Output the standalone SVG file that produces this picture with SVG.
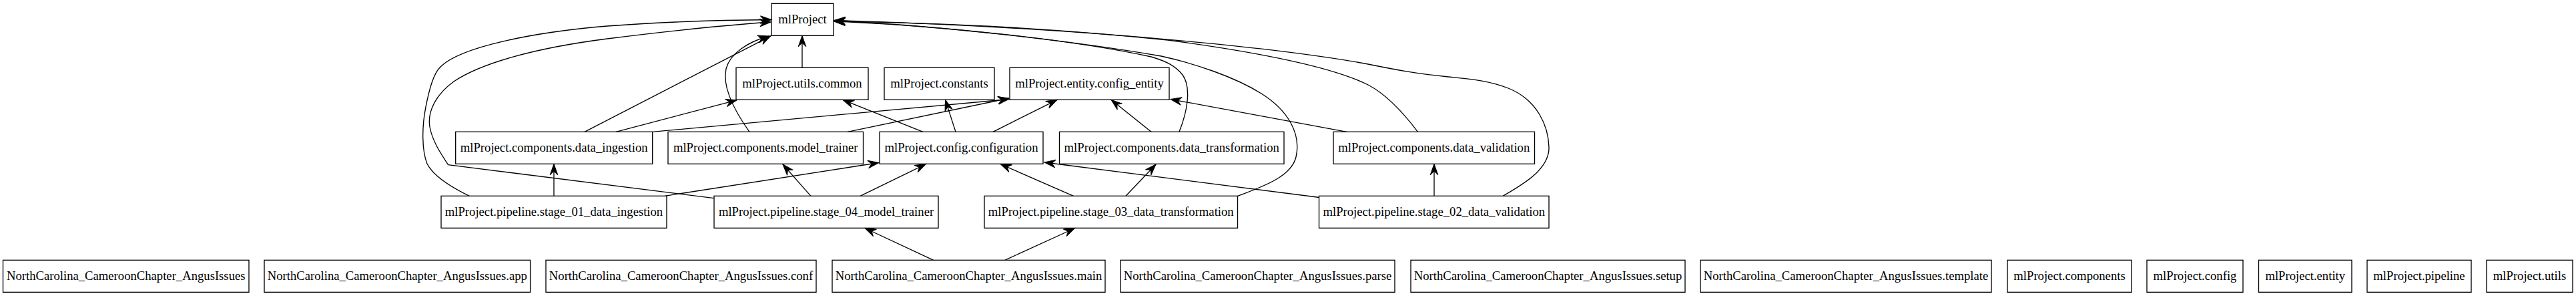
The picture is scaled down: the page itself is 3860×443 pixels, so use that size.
<svg xmlns="http://www.w3.org/2000/svg" width="3860" height="443" viewBox="0 0 3860 443">
<style>
.n rect{fill:#fff;stroke:#000;stroke-width:1.33}
.n text{font-family:"Liberation Serif","Times New Roman",serif;font-size:18.67px;text-anchor:middle;fill:#000}
.e path{fill:none;stroke:#000;stroke-width:1.33;marker-end:url(#vee)}
</style>
<defs>
<marker id="vee" markerUnits="userSpaceOnUse" viewBox="-21 -10 24 20" markerWidth="24" markerHeight="20" refX="0" refY="0" orient="auto">
<polygon points="0,0 -16.5,-5.8 -11,0 -16.5,5.8" fill="#000" stroke="#000" stroke-width="1"/>
</marker>
</defs>
<rect width="3860" height="443" fill="#fff"/>
<g id="nodes">
<g id="mlProject" class="n"><rect x="1156" y="5.33" width="93" height="48"/><text x="1202.5" y="35.33">mlProject</text></g>
<g id="mlProject.utils.common" class="n"><rect x="1103" y="101.33" width="198" height="48"/><text x="1202" y="131.33">mlProject.utils.common</text></g>
<g id="mlProject.constants" class="n"><rect x="1325" y="101.33" width="165" height="48"/><text x="1407.5" y="131.33">mlProject.constants</text></g>
<g id="mlProject.entity.config_entity" class="n"><rect x="1513" y="101.33" width="239" height="48"/><text x="1632.5" y="131.33">mlProject.entity.config_entity</text></g>
<g id="mlProject.components.data_ingestion" class="n"><rect x="682.7" y="197.33" width="295" height="48"/><text x="830.2" y="227.33">mlProject.components.data_ingestion</text></g>
<g id="mlProject.components.model_trainer" class="n"><rect x="1001" y="197.33" width="292.5" height="48"/><text x="1147.25" y="227.33">mlProject.components.model_trainer</text></g>
<g id="mlProject.config.configuration" class="n"><rect x="1318" y="197.33" width="245" height="48"/><text x="1440.5" y="227.33">mlProject.config.configuration</text></g>
<g id="mlProject.components.data_transformation" class="n"><rect x="1587.5" y="197.33" width="336.5" height="48"/><text x="1755.75" y="227.33">mlProject.components.data_transformation</text></g>
<g id="mlProject.components.data_validation" class="n"><rect x="1998" y="197.33" width="301.5" height="48"/><text x="2148.75" y="227.33">mlProject.components.data_validation</text></g>
<g id="mlProject.pipeline.stage_01_data_ingestion" class="n"><rect x="661" y="293.33" width="338" height="48"/><text x="830" y="323.33">mlProject.pipeline.stage_01_data_ingestion</text></g>
<g id="mlProject.pipeline.stage_04_model_trainer" class="n"><rect x="1070" y="293.33" width="336" height="48"/><text x="1238" y="323.33">mlProject.pipeline.stage_04_model_trainer</text></g>
<g id="mlProject.pipeline.stage_03_data_transformation" class="n"><rect x="1475" y="293.33" width="379.5" height="48"/><text x="1664.75" y="323.33">mlProject.pipeline.stage_03_data_transformation</text></g>
<g id="mlProject.pipeline.stage_02_data_validation" class="n"><rect x="1976.5" y="293.33" width="344.5" height="48"/><text x="2148.75" y="323.33">mlProject.pipeline.stage_02_data_validation</text></g>
<g id="NorthCarolina_CameroonChapter_AngusIssues" class="n"><rect x="4.5" y="389.33" width="368.5" height="48"/><text x="188.75" y="419.33">NorthCarolina_CameroonChapter_AngusIssues</text></g>
<g id="NorthCarolina_CameroonChapter_AngusIssues.app" class="n"><rect x="396" y="389.33" width="398.6" height="48"/><text x="595.3" y="419.33">NorthCarolina_CameroonChapter_AngusIssues.app</text></g>
<g id="NorthCarolina_CameroonChapter_AngusIssues.conf" class="n"><rect x="818" y="389.33" width="405" height="48"/><text x="1020.5" y="419.33">NorthCarolina_CameroonChapter_AngusIssues.conf</text></g>
<g id="NorthCarolina_CameroonChapter_AngusIssues.main" class="n"><rect x="1247" y="389.33" width="409" height="48"/><text x="1451.5" y="419.33">NorthCarolina_CameroonChapter_AngusIssues.main</text></g>
<g id="NorthCarolina_CameroonChapter_AngusIssues.parse" class="n"><rect x="1679" y="389.33" width="411" height="48"/><text x="1884.5" y="419.33">NorthCarolina_CameroonChapter_AngusIssues.parse</text></g>
<g id="NorthCarolina_CameroonChapter_AngusIssues.setup" class="n"><rect x="2114" y="389.33" width="411" height="48"/><text x="2319.5" y="419.33">NorthCarolina_CameroonChapter_AngusIssues.setup</text></g>
<g id="NorthCarolina_CameroonChapter_AngusIssues.template" class="n"><rect x="2548" y="389.33" width="436" height="48"/><text x="2766" y="419.33">NorthCarolina_CameroonChapter_AngusIssues.template</text></g>
<g id="mlProject.components" class="n"><rect x="3008" y="389.33" width="186" height="48"/><text x="3101" y="419.33">mlProject.components</text></g>
<g id="mlProject.config" class="n"><rect x="3217" y="389.33" width="144" height="48"/><text x="3289" y="419.33">mlProject.config</text></g>
<g id="mlProject.entity" class="n"><rect x="3384.5" y="389.33" width="139.5" height="48"/><text x="3454.25" y="419.33">mlProject.entity</text></g>
<g id="mlProject.pipeline" class="n"><rect x="3547" y="389.33" width="156" height="48"/><text x="3625" y="419.33">mlProject.pipeline</text></g>
<g id="mlProject.utils" class="n"><rect x="3726" y="389.33" width="129" height="48"/><text x="3790.5" y="419.33">mlProject.utils</text></g>
</g>
<g id="connectors" class="e">
<path d="M1202,101.33 L1202,53.33"/>
<path d="M876,197.33 L1155,53.8"/>
<path d="M1123,197.33 C1100,165 1082,130 1088,103 C1094,80 1120,63 1152,54"/>
<path d="M703.3,293.33 C680,282 650,265 640,245 C632,225 632,190 638,160 C644,130 650,110 660,100 C690,70 800,48 910,39 C990,33 1080,30 1156,29.5"/>
<path d="M1070,296.7 L671.7,246.7 C662,232 648,212 644,190 C640,165 655,140 680,122 C720,95 800,72 910,58 C990,48 1080,38 1155,33"/>
<path d="M923,197.33 L1104,149.8"/>
<path d="M977.7,197.33 L1512,148.5"/>
<path d="M1270,197.33 L1512,147"/>
<path d="M1383,197.33 L1263,149.5"/>
<path d="M1432,197.33 L1416.5,149.33"/>
<path d="M1488,197.33 L1584,149.33"/>
<path d="M1725,197.33 L1665,149.33"/>
<path d="M2018,197.33 L1754,148.5"/>
<path d="M1767,197.33 C1780,165 1785,130 1772,112 C1760,97 1745,91 1725,85 C1600,58 1400,38 1250,32"/>
<path d="M1855,293.33 C1890,280 1935,265 1942,235 C1950,200 1930,165 1890,140 C1850,115 1790,95 1740,84 C1600,60 1400,38 1250,31"/>
<path d="M2124.5,197.33 C2100,165 2075,140 2050,127 C2000,102 1900,80 1750,60 C1550,40 1400,34 1250,32"/>
<path d="M2252,293.33 C2290,272 2322,250 2321,220 C2320,190 2305,150 2260,132 C2230,120 2200,118 2170,115 C2120,110 2090,104 2060,98 C1950,76 1650,42 1250,30.5"/>
<path d="M830,293.33 L830,245.33"/>
<path d="M996,293.33 L1317,243.5"/>
<path d="M1215,293.33 L1173,246"/>
<path d="M1289,293.33 L1387.5,245.5"/>
<path d="M1608.5,293.33 L1499,245.5"/>
<path d="M1687,293.33 L1732,246"/>
<path d="M1977,295.5 L1565,243"/>
<path d="M2149,293.33 L2149,245.33"/>
<path d="M1398.7,389.33 L1296,341.5"/>
<path d="M1505.8,389.33 L1610.7,341.5"/>
</g>
</svg>
